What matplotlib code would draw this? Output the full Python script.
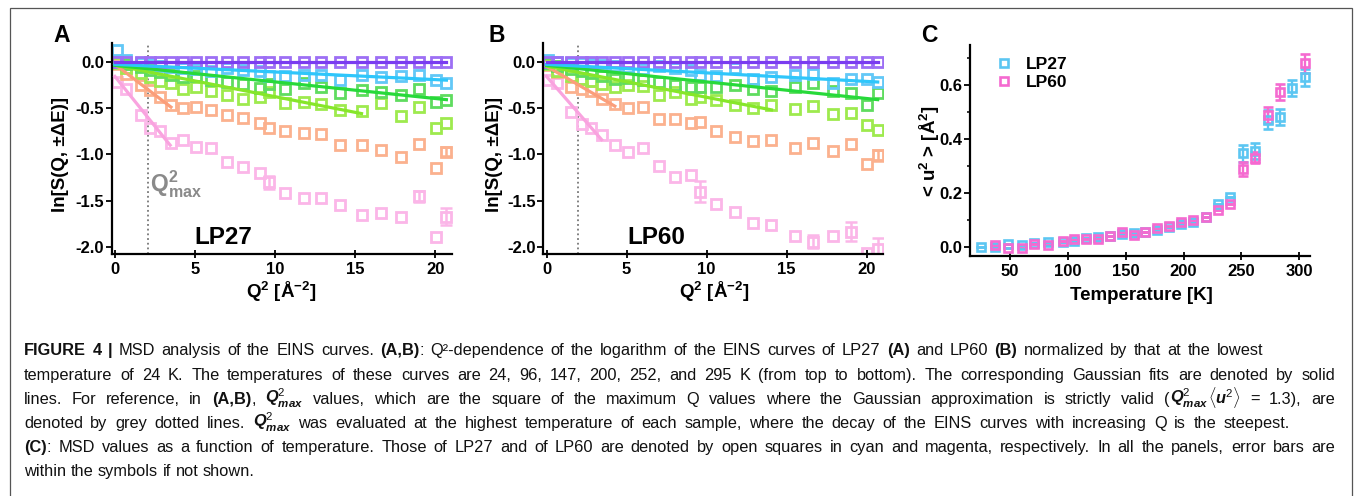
import matplotlib

matplotlib.use("Agg")
import matplotlib.pyplot as plt
from matplotlib.lines import Line2D
from matplotlib.patches import Rectangle
from matplotlib.ticker import FormatStrFormatter, MultipleLocator

W, H = 1355, 496

plt.rcParams["font.family"] = ["Liberation Sans", "DejaVu Sans"]
plt.rcParams["axes.unicode_minus"] = False
plt.rcParams["mathtext.fontset"] = "custom"
plt.rcParams["mathtext.rm"] = "Liberation Sans"
plt.rcParams["mathtext.it"] = "Liberation Sans:italic"
plt.rcParams["mathtext.bf"] = "Liberation Sans:bold"
plt.rcParams["mathtext.bfit"] = "Liberation Sans:italic:bold"

# ---- panel A / B : ln S(Q) vs Q^2, temps 24, 96, 147, 200, 252, 295 K
Q2_A = [0.15, 0.7, 1.6, 2.2, 2.8, 3.5, 4.25, 5.05, 6.0, 7.0, 8.0, 9.05,
        9.6, 10.6, 11.8, 12.9, 14.05, 15.45, 16.6, 17.85, 19.0, 20.05, 20.7]
A_24 = [0.00, 0.00, 0.00, 0.00, 0.00, 0.00, 0.00, 0.00, 0.00, 0.00, 0.00, 0.00,
        0.00, 0.00, 0.00, 0.00, 0.00, 0.00, 0.00, 0.00, 0.00, 0.00, 0.00]
A_96 = [0.12, 0.02, -0.02, -0.03, -0.05, -0.06, -0.07, -0.08, -0.10, -0.07, -0.09,
        -0.10, -0.16, -0.16, -0.14, -0.14, -0.20, -0.14, -0.17, -0.16, -0.14, -0.20, -0.23]
A_147 = [0.01, -0.03, -0.06, -0.09, -0.11, -0.14, -0.17, -0.16, -0.20, -0.22, -0.24,
         -0.28, -0.24, -0.29, -0.23, -0.27, -0.34, -0.31, -0.33, -0.36, -0.30, -0.43, -0.41]
A_200 = [-0.02, -0.07, -0.12, -0.17, -0.21, -0.23, -0.29, -0.27, -0.32, -0.36, -0.40,
         -0.38, -0.33, -0.45, -0.43, -0.46, -0.52, -0.53, -0.45, -0.59, -0.49, -0.71, -0.66]
A_252 = [-0.03, -0.13, -0.25, -0.31, -0.38, -0.47, -0.50, -0.49, -0.52, -0.57, -0.61,
         -0.66, -0.71, -0.75, -0.77, -0.78, -0.90, -0.90, -0.95, -1.03, -0.89, -1.15, -0.97]
A_295 = [-0.22, -0.30, -0.57, -0.71, -0.75, -0.88, -0.84, -0.92, -0.93, -1.08, -1.13,
         -1.20, -1.30, -1.41, -1.47, -1.47, -1.54, -1.65, -1.63, -1.67, -1.45, -1.89, -1.67]
A_ERR_IDX_252, A_ERR_252 = [22], [0.05]
A_ERR_IDX_295, A_ERR_295 = [12, 20, 22], [0.07, 0.06, 0.09]
A_FIT_END = [20.7, 20.7, 20.7, 15.4, 3.5, 3.45]
A_FIT_Y0 = [0.0, -0.03, -0.04, -0.04, -0.03, -0.16]
A_FIT_Y1 = [0.0, -0.20, -0.41, -0.56, -0.49, -0.90]
A_QMAX = 2.04

Q2_B = [0.1, 0.65, 1.56, 2.2, 2.8, 3.44, 4.27, 5.1, 6.04, 7.0, 8.02, 9.06,
        9.6, 10.6, 11.8, 12.9, 14.06, 15.5, 16.67, 17.9, 19.06, 20.0, 20.7]
B_24 = [0.00, 0.00, 0.00, 0.00, 0.00, 0.00, 0.00, 0.00, 0.00, 0.00, 0.00, 0.00,
        0.00, 0.00, 0.00, 0.00, 0.00, 0.00, 0.00, 0.00, 0.00, 0.00, 0.00]
B_96 = [0.02, 0.00, -0.01, -0.02, -0.03, -0.04, -0.05, -0.06, -0.08, -0.05, -0.07,
        -0.09, -0.14, -0.16, -0.07, -0.19, -0.17, -0.14, -0.13, -0.23, -0.19, -0.19, -0.22]
B_147 = [-0.01, -0.05, -0.08, -0.10, -0.12, -0.16, -0.19, -0.18, -0.20, -0.22, -0.25,
         -0.27, -0.27, -0.27, -0.25, -0.30, -0.32, -0.27, -0.23, -0.32, -0.34, -0.47, -0.34]
B_200 = [-0.03, -0.10, -0.16, -0.19, -0.21, -0.24, -0.27, -0.25, -0.26, -0.36, -0.33,
         -0.40, -0.38, -0.41, -0.47, -0.50, -0.47, -0.51, -0.48, -0.56, -0.55, -0.68, -0.74]
B_252 = [-0.04, -0.11, -0.27, -0.29, -0.32, -0.40, -0.46, -0.50, -0.49, -0.62, -0.62,
         -0.66, -0.65, -0.75, -0.81, -0.86, -0.84, -0.93, -0.88, -0.96, -0.89, -1.10, -1.01]
B_295 = [-0.20, -0.23, -0.54, -0.67, -0.72, -0.79, -0.90, -0.97, -0.93, -1.12, -1.24,
         -1.22, -1.40, -1.53, -1.62, -1.74, -1.76, -1.88, -1.94, -1.88, -1.83, -2.06, -2.02]
B_ERR_IDX_252, B_ERR_252 = [22], [0.06]
B_ERR_IDX_295, B_ERR_295 = [12, 18, 20, 22], [0.11, 0.07, 0.10, 0.12]
B_FIT_END = [20.7, 20.7, 20.7, 14.06, 4.27, 3.44]
B_FIT_Y0 = [0.0, -0.03, -0.04, -0.05, -0.05, -0.16]
B_FIT_Y1 = [0.0, -0.22, -0.41, -0.52, -0.48, -0.84]
B_QMAX = 1.94

MARK_COLORS = ["#9d6ff4", "#62c8f7", "#5fdc5f", "#9eea4e", "#fbb18e", "#fbb6e8"]
LINE_COLORS = ["#7a3cf0", "#2ec6fb", "#27d93a", "#86e62a", "#fb9e7a", "#f9a3df"]

# ---- panel C : MSD vs temperature
T_LP27 = [25, 37, 48, 60, 71, 83, 96, 105, 116, 126, 136, 147, 157, 167, 177,
          187, 198, 208, 219, 230, 240, 251, 262, 273, 283, 294, 305]
U_LP27 = [0.000, 0.000, 0.012, 0.009, 0.017, 0.021, 0.021, 0.025, 0.033, 0.039,
          0.043, 0.050, 0.053, 0.058, 0.064, 0.074, 0.086, 0.095, 0.112, 0.159,
          0.186, 0.347, 0.357, 0.471, 0.483, 0.588, 0.628]
E_LP27 = [0, 0, 0, 0, 0, 0, 0, 0, 0, 0, 0, 0, 0, 0, 0, 0, 0, 0, 0, 0, 0,
          0.03, 0.03, 0.035, 0.03, 0.03, 0.03]
T_LP60 = [37, 48, 60, 71, 83, 96, 105, 116, 126, 136, 147, 157, 167, 177, 187,
          198, 208, 219, 230, 240, 251, 262, 273, 283, 305]
U_LP60 = [0.009, -0.004, -0.001, 0.011, 0.009, 0.023, 0.031, 0.031, 0.031, 0.043,
          0.055, 0.046, 0.058, 0.070, 0.079, 0.095, 0.100, 0.112, 0.138, 0.160,
          0.290, 0.331, 0.490, 0.573, 0.680]
E_LP60 = [0, 0, 0, 0, 0, 0, 0, 0, 0, 0, 0, 0, 0, 0, 0, 0, 0, 0, 0, 0,
          0.025, 0.02, 0.03, 0.03, 0.035]
C_LP27, C_LP60 = "#5cc6f2", "#f56ad0"

BOLD = dict(fontweight="bold")
TICK_FS = 12
LABEL_FS = 13.5


def px_axes(fig, left, top, right, bottom):
    return fig.add_axes([left / W, 1 - bottom / H, (right - left) / W, (bottom - top) / H])


def style_axes(ax):
    for s in ("top", "right"):
        ax.spines[s].set_visible(False)
    for s in ("left", "bottom"):
        ax.spines[s].set_linewidth(1.6)
    ax.tick_params(axis="y", direction="out", length=4, width=1.3, pad=1.5,
                   labelsize=TICK_FS)
    ax.tick_params(axis="x", direction="inout", length=6, width=1.3, pad=3,
                   labelsize=TICK_FS)
    ax.tick_params(which="minor", direction="out", length=2.5, width=1.1)
    for lab in ax.get_xticklabels() + ax.get_yticklabels():
        lab.set_fontweight("bold")


def eins_panel(ax, q2, curves, err_sets, fit_end, fit_y0, fit_y1, qmax):
    ax.axvline(qmax, color="#777777", ls=(0, (1, 1.6)), lw=1.3, zorder=1)
    for k in range(len(curves) - 1, -1, -1):
        ax.plot(q2, curves[k], ls="none", marker="s", ms=6.6, mew=2.0,
                mfc="none", mec=MARK_COLORS[k], zorder=2 + (5 - k) * 0.01)
    for k, (idx, err) in err_sets.items():
        ax.errorbar([q2[i] for i in idx], [curves[k][i] for i in idx], yerr=err,
                    fmt="none", ecolor=MARK_COLORS[k], elinewidth=1.8,
                    capsize=4, capthick=1.8, zorder=2)
    for k in range(len(curves)):
        ax.plot([0, fit_end[k]], [fit_y0[k], fit_y1[k]], color=LINE_COLORS[k],
                lw=2.3, zorder=3 + (5 - k) * 0.01)
    ax.set_xlim(-0.2, 21.05)
    ax.set_ylim(-2.072, 0.2)
    ax.set_xticks([0, 5, 10, 15, 20])
    ax.set_yticks([0.0, -0.5, -1.0, -1.5, -2.0])
    ax.yaxis.set_major_formatter(FormatStrFormatter("%.1f"))
    style_axes(ax)


fig = plt.figure(figsize=(W / 100, H / 100), dpi=100)

# frame around the whole figure
fig.add_artist(Rectangle((9.5 / W, -0.05), (1352 - 9.5) / W, 1.05 - 8.5 / H,
                         transform=fig.transFigure, fill=False,
                         edgecolor="#555555", lw=0.9))

axA = px_axes(fig, 111.7, 43, 452, 254)
eins_panel(axA, Q2_A, [A_24, A_96, A_147, A_200, A_252, A_295],
           {4: (A_ERR_IDX_252, A_ERR_252), 5: (A_ERR_IDX_295, A_ERR_295)},
           A_FIT_END, A_FIT_Y0, A_FIT_Y1, A_QMAX)
axA.text(2.19, -1.40, r"$\mathbf{Q}^{\mathbf{2}}_{\mathbf{max}}$", color="#8a8a8a",
         fontsize=16.5, va="baseline", ha="left")
axA.text(6.8, -1.89, "LP27", fontsize=17.5, va="center", ha="center", **BOLD)

axB = px_axes(fig, 543.3, 43, 883.3, 254)
eins_panel(axB, Q2_B, [B_24, B_96, B_147, B_200, B_252, B_295],
           {4: (B_ERR_IDX_252, B_ERR_252), 5: (B_ERR_IDX_295, B_ERR_295)},
           B_FIT_END, B_FIT_Y0, B_FIT_Y1, B_QMAX)
axB.text(6.85, -1.89, "LP60", fontsize=17.5, va="center", ha="center", **BOLD)

axC = px_axes(fig, 970, 45, 1310, 255.7)
axC.errorbar(T_LP27, U_LP27, yerr=E_LP27, fmt="s", ms=6.0, mew=1.9, mfc="none",
             mec=C_LP27, ecolor=C_LP27, elinewidth=1.7, capsize=3.5, capthick=1.7)
axC.errorbar(T_LP60, U_LP60, yerr=E_LP60, fmt="s", ms=6.0, mew=1.9, mfc="none",
             mec=C_LP60, ecolor=C_LP60, elinewidth=1.7, capsize=3.5, capthick=1.7)
axC.set_xlim(15.4, 309.3)
axC.set_ylim(-0.031, 0.748)
axC.set_xticks([50, 100, 150, 200, 250, 300])
axC.set_yticks([0.0, 0.2, 0.4, 0.6])
axC.yaxis.set_minor_locator(MultipleLocator(0.1))
axC.yaxis.set_major_formatter(FormatStrFormatter("%.1f"))
style_axes(axC)
handles = [Line2D([], [], ls="none", marker="s", ms=6.0, mew=1.9, mfc="none", mec=c)
           for c in (C_LP27, C_LP60)]
leg = axC.legend(handles, ["LP27", "LP60"], loc="upper left",
                 bbox_to_anchor=(0.055, 0.975), frameon=False, handlelength=1.0,
                 handletextpad=0.75, labelspacing=0.15, borderaxespad=0,
                 prop=dict(weight="bold", size=12.5))

# axis labels and panel letters (figure pixel positions)
def ftext(x, y, s, **kw):
    return fig.text(x / W, 1 - y / H, s, **kw)


for x, letter in ((53, "A"), (488, "B"), (921, "C")):
    ftext(x, 42, letter, fontsize=16.5, va="baseline", ha="left", **BOLD)
for x in (60.5, 494.5):
    ftext(x, 155, "ln[S(Q, ±ΔE)]", fontsize=LABEL_FS, rotation=90,
          va="center", ha="center", **BOLD)
for x in (281, 714.5):
    ftext(x, 292, r"Q$^{\mathbf{2}}$ [Å$^{\mathbf{-2}}$]", fontsize=LABEL_FS,
          va="center", ha="center", **BOLD)
ftext(930, 151, r"< u$^{\mathbf{2}}$ > [Å$^{\mathbf{2}}$]", fontsize=LABEL_FS,
      rotation=90, va="center", ha="center", **BOLD)
ftext(1141, 296, "Temperature [K]", fontsize=LABEL_FS, va="center", ha="center", **BOLD)

# ---- caption, set word by word so the lines can be justified
QMAX = r"$\mathbfit{Q}^{2}_{\mathbfit{max}}$"
UMEAN = r"$\langle\mathbfit{u}^{2}\rangle$"
CAP_LINES = [
    [("FIGURE 4 |", "b"), (" MSD analysis of the EINS curves. ", "r"), ("(A,B)", "b"),
     (": Q²-dependence of the logarithm of the EINS curves of LP27 ", "r"), ("(A)", "b"),
     (" and LP60 ", "r"), ("(B)", "b"), (" normalized by that at the lowest", "r")],
    [("temperature of 24 K. The temperatures of these curves are 24, 96, 147, 200, 252, "
      "and 295 K (from top to bottom). The corresponding Gaussian fits are denoted by solid", "r")],
    [("lines. For reference, in ", "r"), ("(A,B)", "b"), (", ", "r"), (QMAX, "m"),
     (" values, which are the square of the maximum Q values where the Gaussian "
      "approximation is strictly valid (", "r"), (QMAX, "m"), (UMEAN, "m"),
     (" = 1.3), are", "r")],
    [("denoted by grey dotted lines. ", "r"), (QMAX, "m"),
     (" was evaluated at the highest temperature of each sample, where the decay of the "
      "EINS curves with increasing Q is the steepest.", "r")],
    [("(C)", "b"), (": MSD values as a function of temperature. Those of LP27 and of LP60 are "
      "denoted by open squares in cyan and magenta, respectively. In all the panels, "
      "error bars are", "r")],
    [("within the symbols if not shown.", "r")],
]
CAP_BASE = [355, 380, 404, 428, 452, 476]
CAP_END = [1263, 1335, 1335, 1290, 1335, None]
CAP_FS = 11.8
CAP_STYLE = {"r": {}, "b": {"fontweight": "bold"}, "m": {}}

renderer = fig.canvas.get_renderer()


def caption_line(y, runs, x0, x1):
    pieces, gap = [], False
    for txt, st in runs:
        words = [txt] if st == "m" else txt.split(" ")
        for k, w in enumerate(words):
            if k > 0:
                gap = True
            if w:
                pieces.append((w, st, gap and bool(pieces)))
                gap = False
    arts = [ftext(0, y, w, fontsize=CAP_FS, va="baseline", ha="left",
                  color="#111111", **CAP_STYLE[st]) for w, st, _ in pieces]
    widths = [a.get_window_extent(renderer).width for a in arts]
    ngap = sum(1 for p in pieces if p[2])
    space = CAP_FS * 100 / 72 * 0.278
    if x1 is not None and ngap:
        space = max((x1 - x0 - sum(widths)) / ngap, 0.6 * space)
    x = x0
    for a, wd, p in zip(arts, widths, pieces):
        if p[2]:
            x += space
        a.set_x(x / W)
        x += wd


for y, runs, x1 in zip(CAP_BASE, CAP_LINES, CAP_END):
    caption_line(y, runs, 24, x1)

fig.savefig("out.png", dpi=100)
